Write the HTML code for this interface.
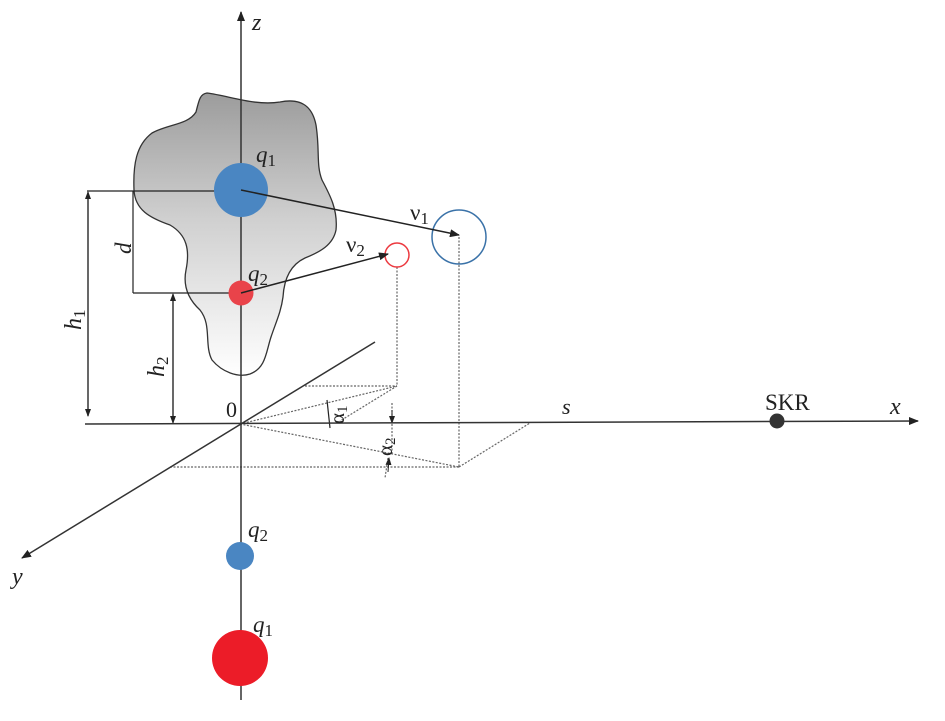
<!DOCTYPE html>
<html><head><meta charset="utf-8"><style>
html,body{margin:0;padding:0;background:#fff}
svg{display:block}
text{font-family:"Liberation Serif","DejaVu Serif",serif;fill:#222}
.it{font-style:italic}
</style></head><body>
<svg width="945" height="721" viewBox="0 0 945 721" xmlns="http://www.w3.org/2000/svg">
<defs>
<linearGradient id="g" x1="0" y1="0" x2="0" y2="1">
<stop offset="0" stop-color="#9c9c9c"/><stop offset="0.45" stop-color="#d0d0d0"/><stop offset="1" stop-color="#ffffff"/>
</linearGradient>
<marker id="a" markerWidth="10" markerHeight="8" refX="9" refY="4" orient="auto" markerUnits="userSpaceOnUse"><path d="M0,0 L10,4 L0,8 z" fill="#222"/></marker>
<marker id="s" markerWidth="8" markerHeight="6" refX="7" refY="3" orient="auto" markerUnits="userSpaceOnUse"><path d="M0,0 L8,3 L0,6 z" fill="#222"/></marker>
</defs>
<path d="M207,93 C230,96 255,106 280,102 C300,98 312,105 316,125 C320,150 316,165 322,180 C330,195 338,210 336,230 C333,245 320,252 305,258 C290,265 284,280 283,297 C281,312 276,322 271,337 C266,352 266,368 250,374 C238,378 222,372 212,360 C204,345 212,325 200,310 C187,298 183,285 186,270 C190,250 187,235 170,225 C150,218 135,210 134,190 C133,165 136,145 152,133 C168,124 188,125 196,112 C199,100 200,94 207,93 Z" fill="url(#g)" stroke="#333" stroke-width="1.3"/>
<g stroke="#222" stroke-width="1.2" fill="none">
<line x1="87" y1="191" x2="240" y2="191"/>
<line x1="133" y1="293" x2="240" y2="293"/>
<line x1="133" y1="191" x2="133" y2="293"/>
<line x1="88" y1="198" x2="88" y2="416" marker-end="url(#s)"/>
<line x1="88" y1="416" x2="88" y2="192" marker-end="url(#s)"/>
<line x1="173" y1="416" x2="173" y2="294" marker-end="url(#s)"/>
<line x1="173" y1="300" x2="173" y2="423" marker-end="url(#s)"/>
</g>
<g stroke="#666" stroke-width="1.2" stroke-dasharray="2,1.5" fill="none">
<line x1="397" y1="267" x2="397" y2="386"/>
<line x1="459" y1="237" x2="459" y2="467"/>
<line x1="305" y1="386" x2="397" y2="386"/>
<line x1="240" y1="424" x2="397" y2="386"/>
<line x1="397" y1="386" x2="340" y2="421"/>
<line x1="240" y1="424" x2="459" y2="467"/>
<line x1="170" y1="467" x2="459" y2="467"/>
<line x1="459" y1="467" x2="530" y2="423"/>
<line x1="392" y1="403" x2="392" y2="455"/>
<line x1="388" y1="458" x2="385" y2="478"/>
</g>
<line x1="392" y1="410" x2="392" y2="423" stroke="#222" marker-end="url(#s)"/>
<line x1="388" y1="472" x2="389" y2="458" stroke="#222" marker-end="url(#s)"/>
<line x1="327" y1="400" x2="330" y2="428" stroke="#222" stroke-width="1.2"/>
<g stroke="#333" stroke-width="1.5" fill="none">
<line x1="85" y1="424" x2="918" y2="421" marker-end="url(#a)"/>
<line x1="241" y1="700" x2="241" y2="12" marker-end="url(#a)"/>
<line x1="375" y1="342" x2="22" y2="558" marker-end="url(#a)"/>
</g>
<circle cx="241" cy="190" r="27" fill="#4a86c2"/>
<circle cx="241" cy="293" r="12.5" fill="#e9434a"/>
<circle cx="240" cy="556" r="14" fill="#4a86c2"/>
<circle cx="240" cy="658" r="28" fill="#ec1c28"/>
<circle cx="459" cy="237" r="27" fill="none" stroke="#3a72a8" stroke-width="1.5"/>
<circle cx="397" cy="255" r="12" fill="none" stroke="#ec3a40" stroke-width="1.5"/>
<circle cx="777" cy="421" r="7.5" fill="#333"/>
<line x1="241" y1="190" x2="459" y2="235" stroke="#222" stroke-width="1.5" marker-end="url(#a)"/>
<line x1="241" y1="293" x2="388" y2="254" stroke="#222" stroke-width="1.5" marker-end="url(#a)"/>
<text x="252" y="30" class="it" font-size="24">z</text>
<text x="890" y="414" class="it" font-size="24">x</text>
<text x="12" y="584" class="it" font-size="24">y</text>
<text x="562" y="414" class="it" font-size="22">s</text>
<text x="765" y="410" font-size="23">SKR</text>
<text x="226" y="417" font-size="22">0</text>
<text x="256" y="162" class="it" font-size="23">q<tspan font-style="normal" font-size="17" dy="4">1</tspan></text>
<text x="248" y="281" class="it" font-size="23">q<tspan font-style="normal" font-size="17" dy="4">2</tspan></text>
<text x="248" y="537" class="it" font-size="23">q<tspan font-style="normal" font-size="17" dy="4">2</tspan></text>
<text x="253" y="632" class="it" font-size="23">q<tspan font-style="normal" font-size="17" dy="4">1</tspan></text>
<text x="410" y="220" font-size="23">ν<tspan font-size="17" dy="4">1</tspan></text>
<text x="346" y="252" font-size="23">ν<tspan font-size="17" dy="4">2</tspan></text>
<text transform="translate(81,330) rotate(-90)" class="it" font-size="24">h<tspan font-style="normal" font-size="17" dy="4">1</tspan></text>
<text transform="translate(164,377) rotate(-90)" class="it" font-size="24">h<tspan font-style="normal" font-size="17" dy="4">2</tspan></text>
<text transform="translate(131,254) rotate(-90)" class="it" font-size="23">d</text>
<text transform="translate(344,424) rotate(-90)" font-size="21">α<tspan font-size="15" dy="3">1</tspan></text>
<text transform="translate(392,456) rotate(-90)" font-size="21">α<tspan font-size="15" dy="3">2</tspan></text>
</svg>
</body></html>
